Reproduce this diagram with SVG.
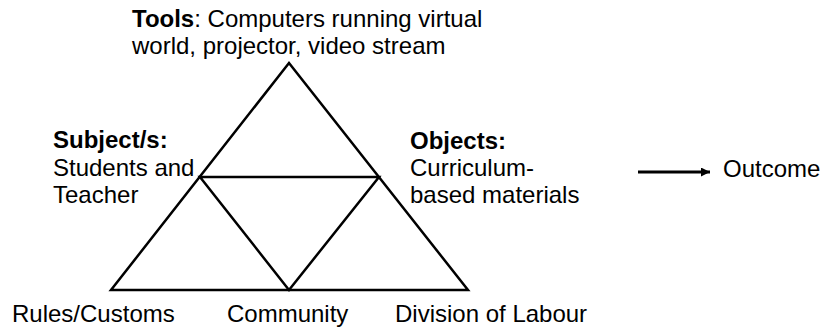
<svg xmlns="http://www.w3.org/2000/svg" width="822" height="328" viewBox="0 0 822 328">
<defs>
<style>
text{font-family:"Liberation Sans",Arial,sans-serif;font-size:24px;fill:#000}
.b{font-weight:bold}
.ln{fill:none;stroke:#000;stroke-width:2.5;stroke-linejoin:miter}
</style>
<marker id="ah" viewBox="0 0 10 10" refX="10" refY="5" markerWidth="3" markerHeight="3" markerUnits="strokeWidth" orient="auto">
<path d="M0,0 L10,5 L0,10 z" fill="#000"/>
</marker>
</defs>
<rect width="822" height="328" fill="#fff"/>
<g id="connectors">
<path class="ln" d="M289,63 L111,290 L468,290 Z"/>
<path class="ln" d="M200,177 L379,177 L289,290 Z"/>
<line x1="638" y1="172" x2="710" y2="172" stroke="#000" stroke-width="3" marker-end="url(#ah)"/>
</g>
<g id="tools"><text x="132" y="27"><tspan class="b">Tools</tspan>: Computers running virtual</text><text x="132" y="54">world, projector, video stream</text></g>
<g id="subject"><text x="53" y="148" class="b">Subject/s:</text><text x="53" y="175.5">Students and</text><text x="53" y="202.5">Teacher</text></g>
<g id="objects"><text x="410" y="148.5" class="b">Objects:</text><text x="410" y="176">Curriculum-</text><text x="410" y="203">based materials</text></g>
<g id="outcome"><text x="723" y="177">Outcome</text></g>
<g id="rules"><text x="12" y="322">Rules/Customs</text></g>
<g id="community"><text x="227" y="322">Community</text></g>
<g id="division"><text x="395" y="322">Division of Labour</text></g>
</svg>
